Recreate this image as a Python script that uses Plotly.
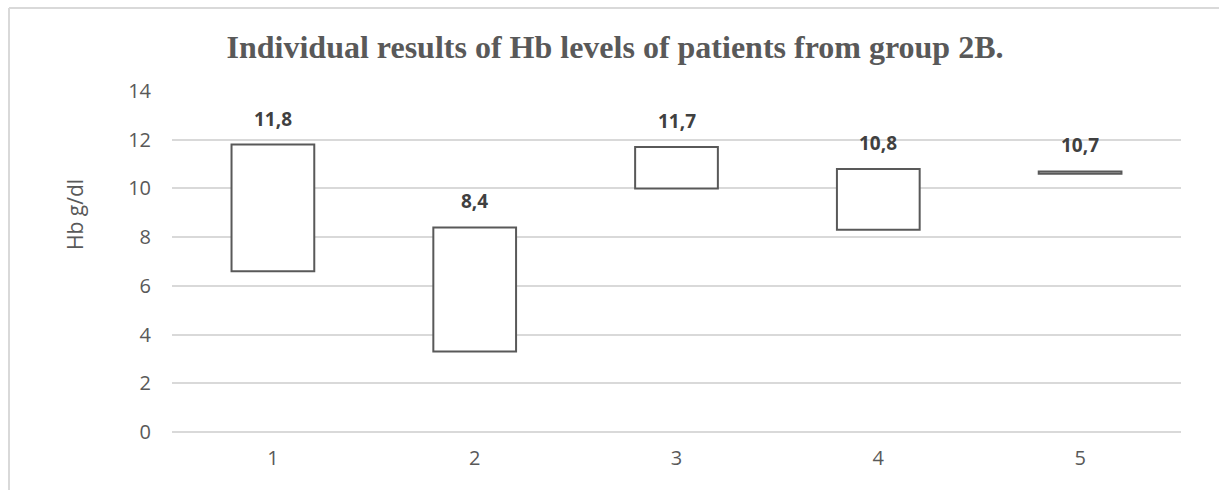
import plotly.graph_objects as go

# Patient number and Hb range (g/dl) for group 2B
patients = ["1", "2", "3", "4", "5"]
hb_low = [6.6, 3.3, 10.0, 8.3, 10.6]
hb_high = [11.8, 8.4, 11.7, 10.8, 10.7]
y_ticks = [0, 2, 4, 6, 8, 10, 12, 14]

W, H = 1219, 490
L, R, T, B = 172, 38, 91, 58

spans = [h - l for h, l in zip(hb_high, hb_low)]

fig = go.Figure()
fig.add_trace(go.Bar(
    x=patients,
    y=spans,
    base=hb_low,
    width=0.41,
    marker=dict(color="white", line=dict(color="#595959", width=2)),
    hoverinfo="skip",
))

# value labels above each bar, taken from the upper value
for i, h in enumerate(hb_high):
    fig.add_annotation(
        x=i, y=h, xref="x", yref="y",
        text="<b>" + f"{h:.1f}".replace(".", ",") + "</b>",
        showarrow=False, yanchor="bottom", yshift=11,
        font=dict(family="Open Sans", size=19, color="#404040"),
    )

# axis title
fig.add_annotation(
    x=(75 - L) / (W - L - R), y=(H - B - 215) / (H - T - B),
    xref="paper", yref="paper", text="Hb g/dl", textangle=-90,
    showarrow=False, xanchor="center", yanchor="middle",
    font=dict(family="Open Sans", size=21, color="#595959"),
)

# outer chart frame
px_w, px_h = W - L - R, H - T - B
fx0 = (9 - L) / px_w
fy1 = (H - B - 8) / px_h
fig.add_shape(type="line", xref="paper", yref="paper",
              x0=fx0, x1=(W - L) / px_w + 0.1, y0=fy1, y1=fy1,
              line=dict(color="#d9d9d9", width=2))
fig.add_shape(type="line", xref="paper", yref="paper",
              x0=fx0, x1=fx0, y0=fy1, y1=-0.5,
              line=dict(color="#d9d9d9", width=2))

fig.update_layout(
    width=W, height=H,
    margin=dict(l=L, r=R, t=T, b=B),
    paper_bgcolor="white", plot_bgcolor="white",
    showlegend=False,
    title=dict(
        text="<b>Individual results of Hb levels of patients from group 2B.</b>",
        x=615 / W, xanchor="center", y=1 - 47 / H, yanchor="middle",
        font=dict(family="Liberation Serif", size=32, color="#595959"),
    ),
    xaxis=dict(
        type="category", range=[-0.5, 4.5],
        showgrid=False, zeroline=False, showline=False,
        ticks="", ticklabelstandoff=12,
        tickfont=dict(family="Open Sans", size=20, color="#595959"),
    ),
    yaxis=dict(
        range=[0, 14], tickvals=y_ticks, showgrid=True,
        gridcolor="#d9d9d9", gridwidth=1.5,
        zeroline=True, zerolinecolor="#d9d9d9", zerolinewidth=1.5,
        showline=False, ticks="", ticklabelstandoff=20,
        tickfont=dict(family="Open Sans", size=20, color="#595959"),
    ),
)

fig.write_html("out.html")
